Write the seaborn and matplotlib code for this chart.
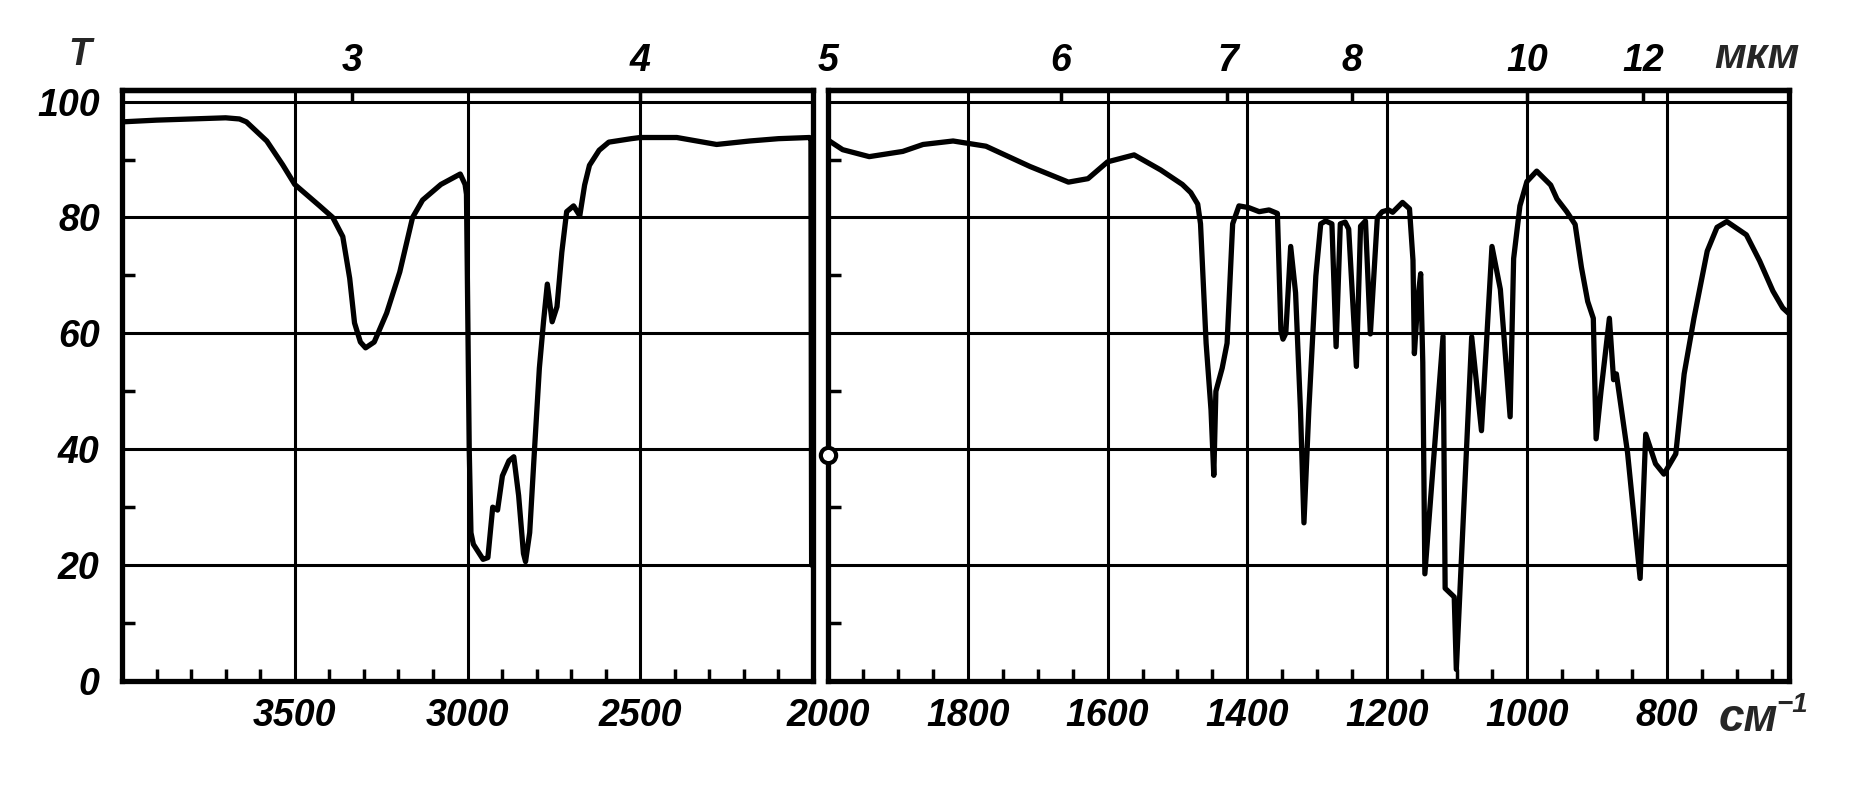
import numpy as np
import matplotlib
matplotlib.use("Agg")
import matplotlib.pyplot as plt
import seaborn as sns
from matplotlib.ticker import FixedLocator, MultipleLocator

# ---------------- data ----------------
wn_left = [4000, 3900, 3800, 3700, 3660, 3640, 3581, 3535, 3500, 3428, 3390,
           3361, 3341, 3327, 3310, 3295, 3270, 3234, 3196, 3159, 3130, 3077,
           3021, 3007, 3003, 2995, 2990, 2983, 2955, 2941, 2927, 2913, 2899,
           2880, 2866, 2852, 2838, 2832, 2820, 2806, 2792, 2780, 2769, 2755,
           2741, 2727, 2713, 2693, 2675, 2661, 2647, 2619, 2591, 2526, 2500,
           2394, 2279, 2183, 2100, 2010, 2006, 2004, 2001, 2000]
t_left = [96.5, 96.8, 97.0, 97.2, 97.0, 96.5, 93.2, 89.1, 85.7, 82.0, 80.0,
          76.7, 69.5, 61.8, 58.5, 57.5, 58.5, 63.5, 70.6, 80.0, 83.0, 85.7,
          87.5, 85.7, 84.0, 40.0, 25.6, 23.6, 21.0, 21.3, 30.0, 29.5, 35.4,
          38.0, 38.7, 32.0, 22.0, 20.6, 25.6, 40.0, 54.0, 62.0, 68.5, 62.0,
          64.6, 74.0, 81.0, 82.0, 80.3, 85.6, 89.0, 91.6, 93.0, 93.6, 93.8,
          93.8, 92.6, 93.2, 93.6, 93.8, 93.5, 20.0, 20.0, 38.0]

wn_right = [2000, 1998, 1979, 1941, 1893, 1864, 1821, 1774, 1711, 1656, 1628,
            1600, 1562, 1524, 1493, 1481, 1471, 1467, 1459, 1452, 1448, 1445,
            1436, 1429, 1421, 1412, 1398, 1383, 1369, 1357, 1352, 1349, 1345,
            1338, 1331, 1324, 1319, 1312, 1302, 1295, 1288, 1279, 1273, 1267,
            1260, 1255, 1244, 1238, 1231, 1224, 1214, 1207, 1198, 1192, 1178,
            1168, 1163, 1161, 1156, 1152, 1149, 1146, 1120, 1117, 1104, 1101,
            1079, 1065, 1050, 1038, 1024, 1019, 1010, 1000, 986, 966, 957,
            943, 931, 922, 913, 905, 901, 894, 882, 876, 872, 856, 838, 830,
            816, 804, 787, 775, 761, 742, 728, 714, 686, 667, 648, 634, 626]
t_right = [93.5, 93.2, 91.7, 90.5, 91.4, 92.6, 93.2, 92.3, 88.8, 86.1, 86.7,
           89.6, 90.8, 88.2, 85.7, 84.3, 82.3, 78.9, 58.3, 46.8, 35.5, 50.0,
           54.0, 58.3, 78.9, 82.0, 81.7, 81.0, 81.3, 80.7, 60.6, 59.0, 60.0,
           75.0, 67.0, 46.8, 27.3, 46.8, 69.9, 78.9, 79.4, 78.9, 57.7, 78.9,
           79.2, 78.0, 54.3, 78.5, 79.4, 59.9, 80.0, 81.0, 81.3, 80.9, 82.6,
           81.5, 72.6, 56.5, 66.0, 70.3, 55.0, 18.5, 59.5, 16.0, 14.5, 2.0,
           59.4, 43.2, 75.0, 67.6, 45.6, 72.9, 82.0, 86.2, 88.0, 85.6, 83.2,
           81.0, 78.8, 71.4, 65.5, 62.6, 41.8, 50.0, 62.6, 52.0, 53.0, 39.4,
           17.7, 42.6, 37.5, 35.7, 39.2, 53.0, 62.6, 74.2, 78.3, 79.3, 77.0,
           72.5, 67.3, 64.4, 63.5]

marker_wn = [2000]
marker_t = [39]

y_ticks = [0, 20, 40, 60, 80, 100]
y_labels = ["0", "20", "40", "60", "80", "100"]
left_xticks = [3500, 3000, 2500]
left_xlabels = ["3500", "3000", "2500"]
right_xticks = [2000, 1800, 1600, 1400, 1200, 1000, 800]
right_xlabels = ["2000", "1800", "1600", "1400", "1200", "1000", "800"]
um_left = [3, 4]
um_right = [5, 6, 7, 8, 10, 12]

# ---------------- style ----------------
sns.set_theme(style="white")
FONT = ["Liberation Sans", "DejaVu Sans"]
plt.rcParams["font.family"] = FONT
plt.rcParams["font.style"] = "italic"
plt.rcParams["font.weight"] = "bold"

FS = 27
SPINE_LW = 3.8
GRID_LW = 2.2
LINE_LW = 3.8

fig = plt.figure(figsize=(18.52, 7.94), dpi=100)
fig.patch.set_facecolor("white")

bottom = (794 - 681) / 794
height = (681 - 90) / 794
axL = fig.add_axes([122 / 1852, bottom, (813 - 122) / 1852, height])
axR = fig.add_axes([828 / 1852, bottom, (1789 - 828) / 1852, height])


def recip(x):
    x = np.asarray(x, dtype=float)
    with np.errstate(divide="ignore", invalid="ignore"):
        return 1e4 / x


for ax, xlim, xt, xl, mstep, um, wn, tt in [
    (axL, (4000, 2000), left_xticks, left_xlabels, 100, um_left, wn_left, t_left),
    (axR, (2000, 625), right_xticks, right_xlabels, 50, um_right, wn_right, t_right),
]:
    ax.set_facecolor("white")
    sns.lineplot(x=wn, y=tt, sort=False, estimator=None, color="black",
                 lw=LINE_LW, ax=ax)
    ax.set_xlim(*xlim)
    ax.set_ylim(0, 102)
    ax.set_xlabel("")
    ax.set_ylabel("")
    ax.xaxis.set_major_locator(FixedLocator(xt))
    ax.xaxis.set_minor_locator(MultipleLocator(mstep))
    ax.set_xticklabels(xl)
    ax.yaxis.set_major_locator(FixedLocator(y_ticks))
    ax.yaxis.set_minor_locator(FixedLocator([10, 30, 50, 70, 90]))
    ax.grid(True, which="major", color="black", lw=GRID_LW)
    for s in ax.spines.values():
        s.set_visible(True)
        s.set_color("black")
        s.set_linewidth(SPINE_LW)
    ax.tick_params(axis="x", which="major", direction="in", length=0,
                   pad=12, labelsize=FS, colors="black")
    ax.tick_params(axis="x", which="minor", direction="in", length=9,
                   width=2.5, color="black", bottom=True)
    ax.tick_params(axis="y", which="major", direction="in", length=0,
                   pad=16, labelsize=FS, colors="black")
    ax.tick_params(axis="y", which="minor", direction="in", length=9,
                   width=2.5, color="black", left=True)
    sec = ax.secondary_xaxis("top", functions=(recip, recip))
    sec.set_xticks(um)
    sec.set_xticklabels([str(u) for u in um])
    sec.tick_params(direction="in", length=9, width=2.5, pad=8,
                    labelsize=FS, colors="black")
    sec.spines["top"].set_linewidth(SPINE_LW)

axL.set_yticklabels(y_labels)
axR.set_yticklabels([])
axR.tick_params(axis="y", which="both", labelleft=False)

axR.plot(marker_wn, marker_t, "o", ms=11, mfc="white", mec="black", mew=3,
         clip_on=False, zorder=5)

fig.text(80 / 1852, 1 - 55 / 794, "T", fontsize=FS, ha="center", va="center")
fig.text(1757 / 1852, 1 - 57 / 794, "мкм", fontsize=FS + 4, ha="center", va="center")
fig.text(1748 / 1852, 1 - 719 / 794, "см", fontsize=FS + 6, ha="center", va="center")
fig.text(1792 / 1852, 1 - 705 / 794, "−1", fontsize=20, ha="center", va="center")

fig.savefig("out.png", dpi=100, facecolor="white")
